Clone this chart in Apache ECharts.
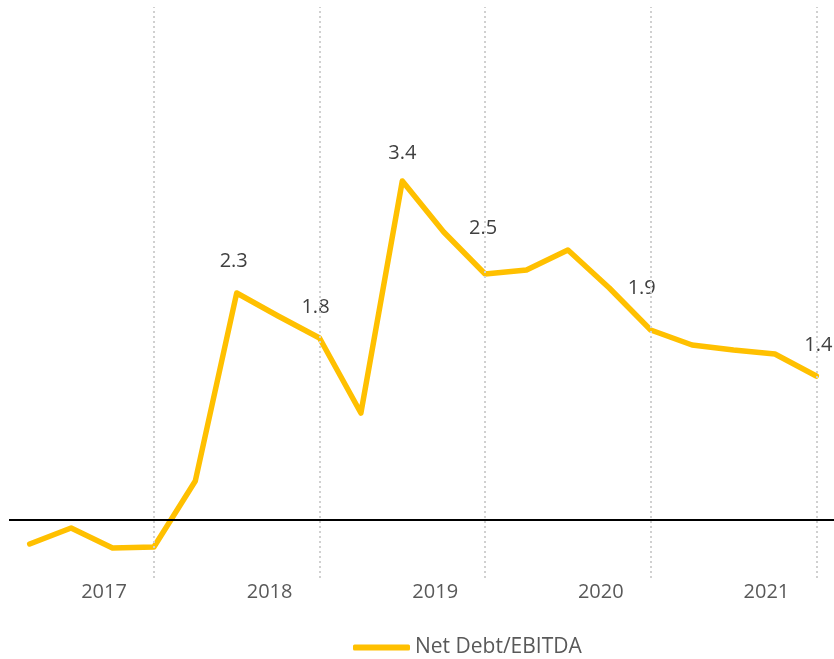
<!DOCTYPE html>
<html>
<head>
<meta charset="utf-8">
<script src="https://cdn.jsdelivr.net/npm/echarts@6/dist/echarts.min.js"></script>
<style>
  html, body { margin: 0; padding: 0; background: #ffffff; overflow: hidden; }
  #chart { width: 840px; height: 659px; }
</style>
</head>
<body>
<div id="chart"></div>
<script>
// ---- Data ----
const quarters = [
  '2017 Q1', '2017 Q2', '2017 Q3', '2017 Q4',
  '2018 Q1', '2018 Q2', '2018 Q3', '2018 Q4',
  '2019 Q1', '2019 Q2', '2019 Q3', '2019 Q4',
  '2020 Q1', '2020 Q2', '2020 Q3', '2020 Q4',
  '2021 Q1', '2021 Q2', '2021 Q3', '2021 Q4'
];
const netDebtEbitda = [
  -0.24, -0.08, -0.28, -0.27,
  0.39, 2.27, 2.04, 1.82,
  1.07, 3.39, 2.88, 2.46,
  2.50, 2.70, 2.32, 1.90,
  1.75, 1.70, 1.66, 1.44
];
const seriesName = 'Net Debt/EBITDA';
const labelledPoints = [5, 7, 9, 11, 15, 19];
const yearEndQuarters = ['2017 Q4', '2018 Q4', '2019 Q4', '2020 Q4', '2021 Q4'];

// ---- Label placement tweaks (style only) ----
const labelOffsets = {
  5: [-3, -1], 7: [-4, 0], 9: [0, 3], 11: [-2, -15], 15: [-9, -11], 19: [2, 0]
};

const seriesData = netDebtEbitda.map((v, i) => {
  if (labelledPoints.indexOf(i) >= 0) {
    return {
      value: v,
      label: {
        show: true,
        position: 'top',
        distance: 20,
        offset: labelOffsets[i] || [0, 0],
        fontSize: 20,
        color: '#404040'
      }
    };
  }
  return v;
});

const markLineData = yearEndQuarters.map(q => ({
  xAxis: q,
  lineStyle: { color: '#d0d0d0', width: 2, type: [2, 3] }
}));
markLineData.push({
  yAxis: 0,
  lineStyle: { color: '#000000', width: 2, type: 'solid' }
});

const chart = echarts.init(document.getElementById('chart'));
chart.setOption({
  animation: false,
  textStyle: { fontFamily: 'Open Sans' },
  grid: { left: 9, width: 828, top: 7, bottom: 81, containLabel: false },
  xAxis: {
    type: 'category',
    data: quarters,
    boundaryGap: true,
    axisLine: { show: false, onZero: false },
    axisTick: { show: false },
    splitLine: { show: false },
    axisLabel: {
      interval: 0,
      margin: 4,
      fontSize: 20,
      color: '#595959',
      padding: [0, 17, 0, 0],
      formatter: (v, i) => (i % 4 === 2 ? v.slice(0, 4) : '')
    }
  },
  yAxis: {
    type: 'value',
    min: -0.58,
    max: 5.13,
    axisLine: { show: false },
    axisTick: { show: false },
    axisLabel: { show: false },
    splitLine: { show: false }
  },
  legend: {
    data: [seriesName],
    left: 353,
    top: 637,
    padding: 0,
    icon: 'roundRect',
    itemWidth: 57,
    itemHeight: 6,
    textStyle: { fontSize: 21, color: '#595959' }
  },
  series: [{
    name: seriesName,
    type: 'line',
    data: seriesData,
    symbol: 'circle',
    symbolSize: 1,
    showSymbol: true,
    showAllSymbol: true,
    itemStyle: { color: '#FFC000' },
    label: {
      show: false,
      formatter: p => Number(p.value).toFixed(1)
    },
    lineStyle: { color: '#FFC000', width: 5.5, join: 'round', cap: 'round' },
    z: 2,
    markLine: {
      silent: true,
      symbol: ['none', 'none'],
      label: { show: false },
      z: 3,
      data: markLineData
    }
  }]
});
</script>
</body>
</html>
